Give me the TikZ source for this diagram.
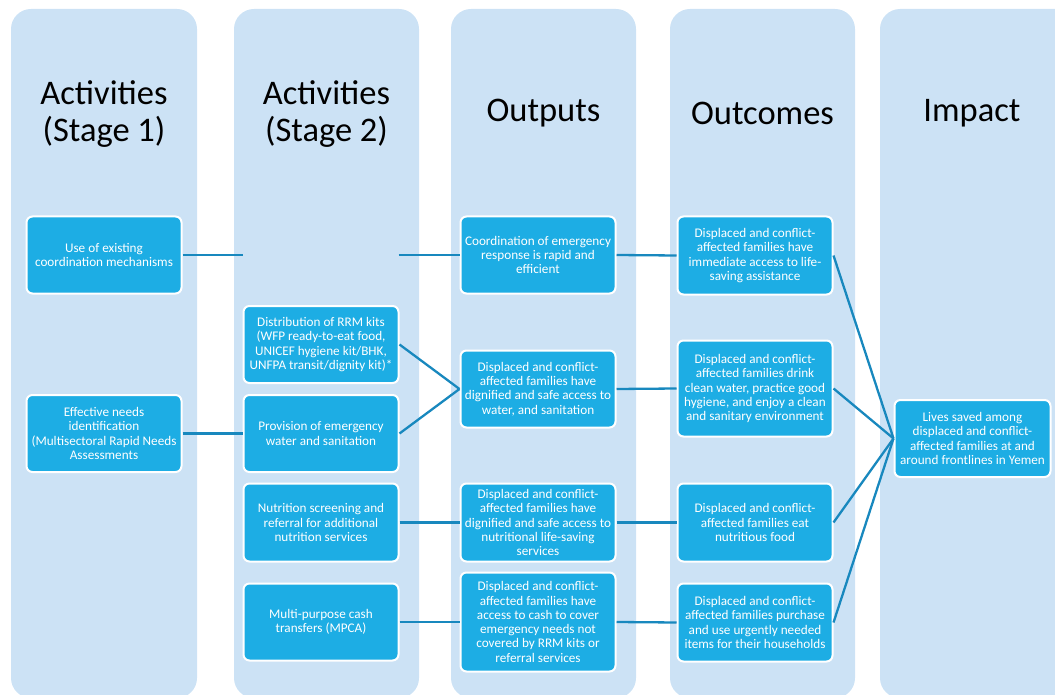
\documentclass[tikz,border=0pt]{standalone}
\usepackage{fontspec}
\setmainfont{Carlito}
\definecolor{colbg}{RGB}{204,226,245}
\definecolor{boxblue}{RGB}{29,173,228}
\definecolor{linkblue}{RGB}{24,136,190}
\tikzset{
  box/.style={draw=white, line width=2pt, fill=boxblue, rounded corners=6pt, text=white,
    align=center, minimum width=155pt, minimum height=77pt, inner sep=1pt,
    font=\fontsize{13.2}{14.3}\selectfont},
  blank/.style={minimum width=155pt, minimum height=77pt, inner sep=0pt},
  head/.style={align=center, font=\fontsize{34.5}{36.5}\selectfont},
  link/.style={draw=linkblue, line width=2.3pt},
}
\begin{document}
\begin{tikzpicture}[x=1pt,y=-1pt]
\useasboundingbox (0,0) rectangle (1055,695);

% column backgrounds
\fill[colbg, rounded corners=20pt] (11,9) rectangle (197,698);
\fill[colbg, rounded corners=20pt] (234,9) rectangle (419,698);
\fill[colbg, rounded corners=20pt] (451,9) rectangle (636,698);
\fill[colbg, rounded corners=20pt] (670,9) rectangle (855,698);
\fill[colbg, rounded corners=20pt] (880,9) rectangle (1075,698);

% column headings
\node[head] (hStageOne) at (104,114) {Activities\\(Stage 1)};
\node[head] (hStageTwo) at (326.5,114) {Activities\\(Stage 2)};
\node[head] (hOutputs) at (543.5,113) {Outputs};
\node[head] (hOutcomes) at (762.5,113) {Outcomes};
\node[head] (hImpact) at (972,113) {Impact};

% activities, stage 1
\node[box] (actCoord) at (104,255) {Use of existing\\coordination mechanisms};
\node[box] (actNeeds) at (104,433.5) {Effective needs\\identification\\(Multisectoral Rapid Needs\\Assessments};

% activities, stage 2
\node[blank] (actGap) at (321,255) {};
\node[box] (actKits) at (321,344.5) {Distribution of RRM kits\\(WFP ready-to-eat food,\\UNICEF hygiene kit/BHK,\\UNFPA transit/dignity kit)*};
\node[box] (actWater) at (321,433.5) {Provision of emergency\\water and sanitation};
\node[box, minimum height=78pt] (actNutr) at (321,522.5) {Nutrition screening and\\referral for additional\\nutrition services};
\node[box] (actCash) at (321,622) {Multi-purpose cash\\transfers (MPCA)};

% outputs
\node[box] (outCoord) at (538,255) {Coordination of emergency\\response is rapid and\\efficient};
\node[box] (outWater) at (538,389) {Displaced and conflict-\\affected families have\\dignified and safe access to\\water, and sanitation};
\node[box, minimum height=78pt] (outNutr) at (538,522.5) {Displaced and conflict-\\affected families have\\dignified and safe access to\\nutritional life-saving\\services};
\node[box, minimum height=99pt] (outCash) at (538,622) {Displaced and conflict-\\affected families have\\access to cash to cover\\emergency needs not\\covered by RRM kits or\\referral services};

% outcomes
\node[box, minimum height=78pt] (ocAccess) at (755,255.5) {Displaced and conflict-\\affected families have\\immediate access to life-\\saving assistance};
\node[box, minimum height=96pt] (ocClean) at (755,388.5) {Displaced and conflict-\\affected families drink\\clean water, practice good\\hygiene, and enjoy a clean\\and sanitary environment};
\node[box, minimum height=78pt] (ocFood) at (755,522.5) {Displaced and conflict-\\affected families eat\\nutritious food};
\node[box, minimum height=78pt] (ocItems) at (755,622.5) {Displaced and conflict-\\affected families purchase\\and use urgently needed\\items for their households};

% impact
\node[box, minimum width=156pt] (impLives) at (972.5,438.5) {Lives saved among\\displaced and conflict-\\affected families at and\\around frontlines in Yemen};

% links
\draw[link] (actCoord.east) -- (actGap.west);
\draw[link] (actGap.east) -- (outCoord.west);
\draw[link] (actNeeds.east) -- (actWater.west);
\draw[link] (actKits.east) -- (outWater.west);
\draw[link] (actWater.east) -- (outWater.west);
\draw[link] (actNutr.east) -- (outNutr.west);
\draw[link] (actCash.east) -- (outCash.west);
\draw[link] (outCoord.east) -- (ocAccess.west);
\draw[link] (outWater.east) -- (ocClean.west);
\draw[link] (outNutr.east) -- (ocFood.west);
\draw[link] (outCash.east) -- (ocItems.west);
\foreach \oc in {ocAccess,ocClean,ocFood,ocItems}
  \draw[link] (\oc.east) -- (impLives.west);
\end{tikzpicture}
\end{document}
